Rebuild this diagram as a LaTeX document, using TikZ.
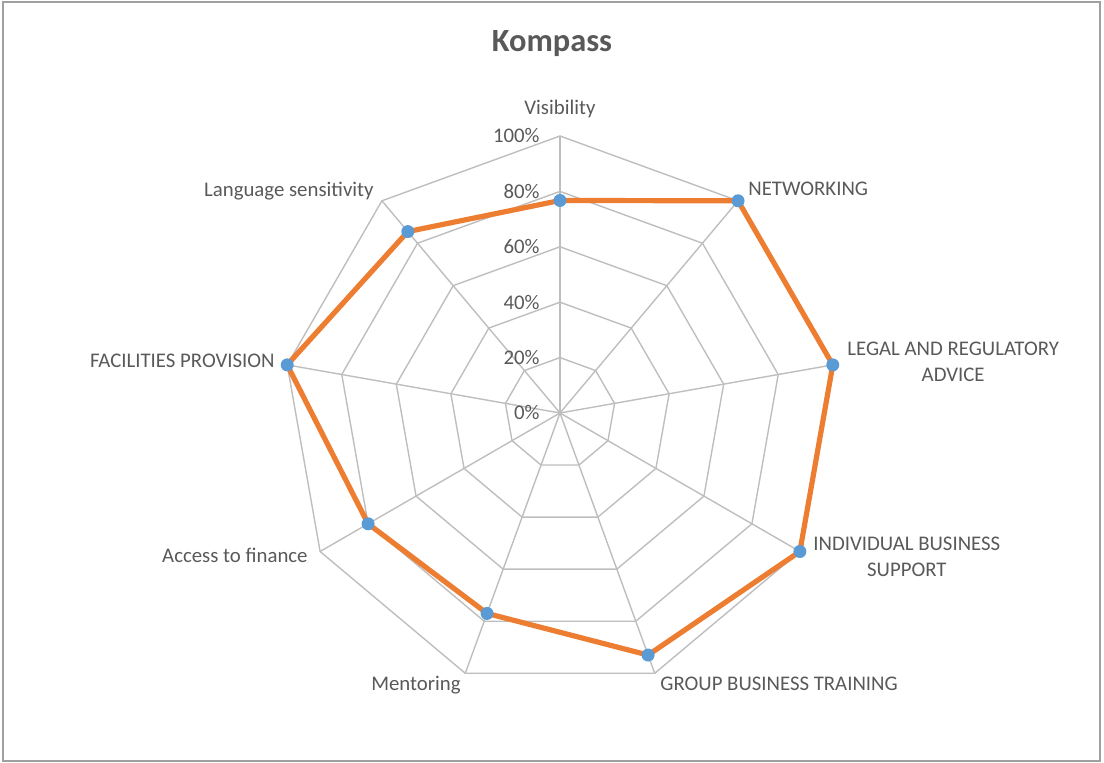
\documentclass[tikz,border=0pt]{standalone}
\usepackage{fontspec}
\setmainfont{Carlito}

\definecolor{txtgray}{RGB}{89,89,89}
\definecolor{gridgray}{RGB}{190,190,190}
\definecolor{framegray}{RGB}{160,160,160}
\definecolor{lineorange}{RGB}{237,125,49}
\definecolor{dotblue}{RGB}{91,155,213}

\tikzset{
  axislabel/.style={font=\fontsize{10.4}{13}\selectfont, text=txtgray, inner sep=0pt},
  gridline/.style={draw=gridgray, line width=0.7pt},
  dataline/.style={draw=lineorange, line width=2.6pt, line join=round},
  datadot/.style={fill=dotblue},
}

\begin{document}
\begin{tikzpicture}[x=0.5pt,y=0.5pt]
        \useasboundingbox (-560,-350) rectangle (544,413);

        % Frame
        \draw[framegray, line width=1pt] (-557,-348) rectangle (540,411);

        % Title
        \node[font=\fontsize{16.2}{19}\selectfont\bfseries, text=txtgray, anchor=base] (title) at (-8,361) {Kompass};

        % Grid rings
        \foreach \r in {55.4,110.8,166.2,221.6,277}
          \draw[gridline] (90:\r) -- (50:\r) -- (10:\r) -- (-30:\r) -- (-70:\r) -- (-110:\r) -- (-150:\r) -- (170:\r) -- (130:\r) -- cycle;

        % Spokes
        \foreach \a in {90,50,...,-230}
          \draw[gridline] (0,0) -- (\a:277);

        % Scale
        \foreach \v in {0,20,...,100}
          \node[axislabel, anchor=east] (tick\v) at (-20,{2.77*\v}) {\v\%};

        % Axis names
        \node[axislabel, anchor=base] (visibility) at (0,298) {Visibility};
        \node[axislabel, anchor=base west] (networking) at (188,217) {NETWORKING};
        \node[axislabel, anchor=west, align=center] (legal) at (287,51) {LEGAL AND REGULATORY\\ADVICE};
        \node[axislabel, anchor=west, align=center] (individual) at (253,-144) {INDIVIDUAL BUSINESS\\SUPPORT};
        \node[axislabel, anchor=base west] (group) at (100,-278) {GROUP BUSINESS TRAINING};
        \node[axislabel, anchor=base east] (mentoring) at (-99,-278) {Mentoring};
        \node[axislabel, anchor=base east] (finance) at (-252,-150) {Access to finance};
        \node[axislabel, anchor=base east] (facilities) at (-285,45) {FACILITIES PROVISION};
        \node[axislabel, anchor=base east] (language) at (-186,216) {Language sensitivity};

        % Data
        \coordinate (d1) at (90:212.5);
        \coordinate (d2) at (50:277);
        \coordinate (d3) at (10:277);
        \coordinate (d4) at (-30:277);
        \coordinate (d5) at (-70:257.6);
        \coordinate (d6) at (-110:213.3);
        \coordinate (d7) at (-150:221.6);
        \coordinate (d8) at (170:277);
        \coordinate (d9) at (130:236.8);
        \draw[dataline] (d1) -- (d2) -- (d3) -- (d4) -- (d5) -- (d6) -- (d7) -- (d8) -- (d9) -- cycle;

        % Markers
        \foreach \p in {d1,d2,d3,d4,d5,d6,d7,d8,d9}
          \fill[datadot] (\p) circle (6.5);
\end{tikzpicture}
\end{document}
